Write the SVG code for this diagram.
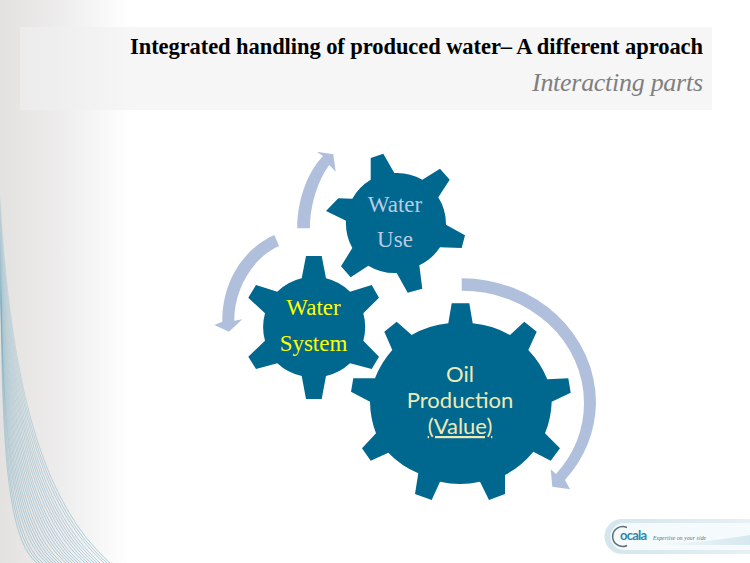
<svg xmlns="http://www.w3.org/2000/svg" width="750" height="563" viewBox="0 0 750 563">
<style>
.gear{fill:#00678f}
.arrow{fill:#b0c0dc}
.serif{font-family:"Liberation Serif","DejaVu Serif",serif;text-anchor:middle;font-size:23px}
.sans{font-family:Lato,"Noto Sans",sans-serif;text-anchor:middle;font-size:22px;fill:#eeeab8}
.wave path{fill:none;stroke:url(#waveStroke);stroke-width:.55}
</style>
<defs>
<linearGradient id="bg" x1="0" x2="1" y1="0" y2="0"><stop offset="0" stop-color="#e3e2e0"/><stop offset=".5" stop-color="#efeeee"/><stop offset="1" stop-color="#ffffff"/></linearGradient>
<linearGradient id="waveStroke" gradientUnits="userSpaceOnUse" x1="0" y1="195" x2="60" y2="563"><stop offset="0" stop-color="#4f97b5" stop-opacity=".12"/><stop offset=".5" stop-color="#4f97b5" stop-opacity=".45"/><stop offset="1" stop-color="#4f97b5" stop-opacity=".8"/></linearGradient>
<linearGradient id="logoBand" x1="0" x2="1" y1="0" y2="0"><stop offset="0" stop-color="#d3e5ee"/><stop offset="1" stop-color="#e6f0f5"/></linearGradient>
<linearGradient id="swoosh" x1="0" x2="1" y1="0" y2="0"><stop offset="0" stop-color="#f5fafc"/><stop offset="1" stop-color="#d5e7ef"/></linearGradient>
</defs>
<rect width="750" height="563" fill="#fff"/>
<rect width="130" height="563" fill="url(#bg)"/>
<g class="wave">
<path d="M0,195C10,380 40,500 110,563"/><path d="M0,200C9.7,383 38.6,502 107,563"/><path d="M0,204C9.3,386 37.2,503 104,563"/><path d="M0,209C9,389 35.8,505 100,563"/><path d="M0,213C8.6,392 34.4,507 97,563"/><path d="M0,218C8.3,395 33,509 94,563"/><path d="M0,222C7.9,398 31.7,510 91,563"/><path d="M0,227C7.6,401 30.3,512 88,563"/><path d="M0,232C7.2,404 28.9,514 85,563"/><path d="M0,236C6.9,407 27.5,516 81,563"/><path d="M0,241C6.5,410 26.1,517 78,563"/><path d="M0,245C6.2,413 24.7,519 75,563"/><path d="M0,250C5.8,416 23.3,521 72,563"/><path d="M0,254C5.5,420 21.9,523 69,563"/><path d="M0,259C5.1,423 20.5,524 66,563"/><path d="M0,263C4.8,426 19.2,526 62,563"/><path d="M0,268C4.4,429 17.8,528 59,563"/><path d="M0,273C4.1,432 16.4,530 56,563"/><path d="M0,277C3.7,435 15,531 53,563"/><path d="M0,282C3.4,438 13.6,533 50,563"/><path d="M1,286C3,441 12.2,535 47,563"/><path d="M1,291C2.7,444 10.8,537 43,563"/><path d="M1,295C2.3,447 9.4,538 40,563"/><path d="M1,300C2,450 8,540 37,563"/>
</g>
<g id="title">
<rect x="20" y="27" width="692" height="83" fill="#f0f0f0" fill-opacity=".6"/>
<text x="703" y="54" text-anchor="end" textLength="573" font-family="'Liberation Serif','DejaVu Serif',serif" font-weight="700" font-size="22.5" fill="#000">Integrated handling of produced water– A different aproach</text>
<text x="703" y="91" text-anchor="end" textLength="171" font-family="'Liberation Serif','DejaVu Serif',serif" font-style="italic" font-size="26" fill="#7f7f7f">Interacting parts</text>
</g>
<g id="connectors">
<path class="arrow" d="M461.7,278.3A134.3,124.7 0 0 1 596,403A134.3,124.7 0 0 1 565,480L570,489.3L552.3,486.7L550.7,469.3L556,474A122.3,112.3 0 0 0 584,403A122.3,112.3 0 0 0 461.7,290.7Z"/>
<path class="arrow" d="M297.3,228.3C297,205 305,175 323,156L316.7,151.7L333.3,154.3L335.7,171.7L329.3,165C318,180 310,205 310,228.3Z"/>
<path class="arrow" d="M274.3,235C245,248 222,280 222.3,321.7L214.3,325L229,331.7L242.3,319.3L234.3,320.7C234,290 252,258 279,246Z"/>
</g>
<g id="node-oil-production">
<path class="gear" d="M448.3,323.3L451.7,303.3L469.3,303.3L472.7,323.3A91,91 0 0 1 510,335L524.3,321.7L536.7,331.7L528.3,350A91,91 0 0 1 547.3,379.3L568.3,378.3L570.7,392.7L551.7,401.7A91,91 0 0 1 545,433.3L560,448.3L550.7,460.7L533.3,451.7A91,91 0 0 1 505,475L505,494L489,500L480,481.7A91,91 0 0 1 440,481.7L431.7,500L415,494L418.3,473.3A91,91 0 0 1 388.3,452.7L370.7,460.7L362,448.3L376,433.3A91,91 0 0 1 370,401.7L351,391.7L353.3,378.3L375,378.3A91,91 0 0 1 392.3,350L384.3,331.7L396.7,321.7L411.7,335A91,91 0 0 1 448.3,323.3Z"/>
<text class="sans" x="460" y="382">Oil</text>
<text class="sans" x="460" y="408">Production</text>
<text class="sans" x="460" y="434" style="text-decoration:underline;text-decoration-skip-ink:none">(Value)</text>
</g>
<g id="node-water-system">
<path class="gear" d="M301.7,278.3L306,256L321.7,256L326,278.3A51,51 0 0 1 350,291.7L371.7,285L379,297.7L363.3,313.3A51,51 0 0 1 363.3,340.7L379,356.7L371.7,369L350,363.3A51,51 0 0 1 326,376L321.7,399L306,399L301.7,376A51,51 0 0 1 277.3,363.3L256,369L248.3,356.7L265,340.7A51,51 0 0 1 265,313.3L248.3,297.7L256,285L277.3,291.7A51,51 0 0 1 301.7,278.3Z"/>
<text class="serif" x="313.500" y="315" fill="#ffff00">Water</text>
<text class="serif" x="313.500" y="351" fill="#ffff00">System</text>
</g>
<g id="node-water-use">
<path class="gear" d="M370.700,179.700L370.700,158L383.300,153.700L394.300,173A51,51 0 0 1 422.300,179.700L440,168.700L449.700,179.700L438.300,197.300A51,51 0 0 1 446,224.700L465,235.300L461.700,248L440,247.300A51,51 0 0 1 419.300,265.300L422.300,288.700L407.700,292.700L396.700,273A51,51 0 0 1 368.300,265.700L350.700,277.300L341,266.300L352.300,248A51,51 0 0 1 346,220.700L326,211L338.300,198.300L352.300,198.700A51,51 0 0 1 370.700,179.700Z"/>
<text class="serif" x="395" y="212" fill="#b8cce4">Water</text>
<text class="serif" x="395" y="247" fill="#b8cce4">Use</text>
</g>
<g id="logo">
<path d="M750,519H622A17.500,17.500 0 0 0 622,554H750Z" fill="url(#logoBand)"/>
<path d="M750,523H624A13.500,13.500 0 0 0 624,550H750Z" fill="#f5fafc"/>
<path d="M653,543C690,544 725,539 750,535V545H653Z" fill="url(#swoosh)"/>
<path d="M627,527.500A10,10 0 1 0 627,545.500" fill="none" stroke="#5d6f78" stroke-width="1.500"/>
<text x="620" y="540" font-family="Lato,'Noto Sans',sans-serif" font-weight="700" font-size="13" fill="#2f86a8" textLength="27">ocala</text>
<text x="653" y="539.500" font-family="'Liberation Serif',serif" font-style="italic" font-size="5.500" fill="#5a6a72" textLength="53">Expertise on your side</text>
</g>
</svg>
